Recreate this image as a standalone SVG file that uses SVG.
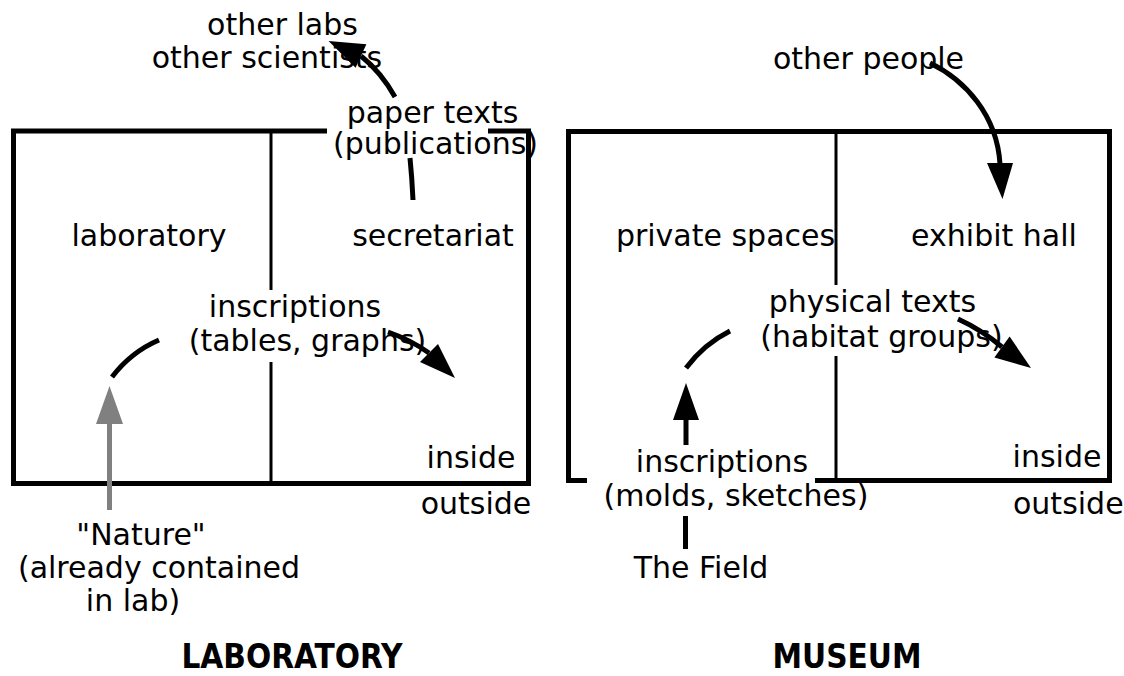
<svg xmlns="http://www.w3.org/2000/svg" width="1124" height="676" viewBox="0 0 1124 676">
<style>
text{font-family:"DejaVu Sans","Liberation Sans",sans-serif;font-size:30px;fill:#000}
.c{text-anchor:middle}
.t{font-family:"DejaVu Sans Condensed","DejaVu Sans","Liberation Sans",sans-serif;font-stretch:condensed;font-weight:bold;font-size:33px;text-anchor:middle}
.box{fill:none;stroke:#000;stroke-width:5;stroke-linejoin:miter;stroke-linecap:butt}
.div{fill:none;stroke:#000;stroke-width:3}
.ln{fill:none;stroke:#000;stroke-width:5;stroke-linecap:butt}
.gl{fill:none;stroke:#808080;stroke-width:5}
.ah{fill:#000;stroke:none}
.gh{fill:#808080;stroke:none}
</style>
<rect width="1124" height="676" fill="#fff"/>
<g id="lab-box">
<path class="box" d="M327,131 H13.5 V483.5 H528.5 V131 H488"/>
<path class="div" d="M271,131 V290 M271,362 V483.5"/>
</g>
<g id="museum-box">
<path class="box" d="M587,480.5 H568.5 V131.5 H1109.5 V480.5 H815"/>
<path class="div" d="M836,131.5 V285 M836,356 V480.5"/>
</g>
<g id="connectors">
<path class="ln" d="M112,377 Q131,352 159,340"/>
<path class="ln" d="M388,332 Q411,340 429,353"/>
<polygon class="ah" points="455,378 420,362 438,344"/>
<path class="gl" d="M109.5,510 V423"/>
<polygon class="gh" points="109.5,386 96,424 123,424"/>
<path class="ln" d="M413,200 Q412,178 410,158"/>
<path class="ln" d="M395,97 Q381,72 361,56"/>
<polygon class="ah" points="328.5,41 366.4,44.2 355.6,67.8"/>
<path class="ln" d="M930,63 C965,80 997,115 1000,164"/>
<polygon class="ah" points="1002.5,199 987,163 1013,163"/>
<path class="ln" d="M686,368 Q704,344 730,331"/>
<path class="ln" d="M958,319 Q982,330 1002,347"/>
<polygon class="ah" points="1031,368 994.4,357.5 1009.6,336.5"/>
<path class="ln" d="M686,445 V419"/>
<polygon class="ah" points="686,383 673,420 699,420"/>
<path class="ln" d="M685.5,516 V549"/>
</g>
<g id="other-labs"><text class="c" x="282.5" y="35">other labs</text><text class="c" x="267" y="68">other scientists</text></g>
<g id="paper-texts"><text class="c" x="432.5" y="122.5">paper texts</text><text class="c" x="435.5" y="153.5">(publications)</text></g>
<g id="laboratory"><text class="c" x="149" y="246">laboratory</text></g>
<g id="secretariat"><text class="c" x="433" y="246">secretariat</text></g>
<g id="inscriptions-lab"><text class="c" x="295" y="317">inscriptions</text><text class="c" x="307.5" y="351">(tables, graphs)</text></g>
<g id="inside-lab"><text class="c" x="471" y="468">inside</text></g>
<g id="outside-lab"><text class="c" x="476" y="514">outside</text></g>
<g id="nature"><text class="c" x="141" y="545">"Nature"</text><text class="c" x="159" y="578">(already contained</text><text class="c" x="133" y="611">in lab)</text></g>
<g id="title-lab"><text class="t" x="292" y="668">LABORATORY</text></g>
<g id="other-people"><text class="c" x="868.5" y="69">other people</text></g>
<g id="private-spaces"><text class="c" x="725.5" y="246">private spaces</text></g>
<g id="exhibit-hall"><text class="c" x="994" y="246">exhibit hall</text></g>
<g id="physical-texts"><text class="c" x="872.5" y="311.5">physical texts</text><text class="c" x="881.5" y="346.5">(habitat groups)</text></g>
<g id="inscriptions-museum"><text class="c" x="722" y="471.5">inscriptions</text><text class="c" x="736" y="506">(molds, sketches)</text></g>
<g id="inside-museum"><text class="c" x="1057" y="467">inside</text></g>
<g id="outside-museum"><text x="1013" y="514">outside</text></g>
<g id="the-field"><text class="c" x="701" y="578">The Field</text></g>
<g id="title-museum"><text class="t" x="847" y="668">MUSEUM</text></g>
</svg>
